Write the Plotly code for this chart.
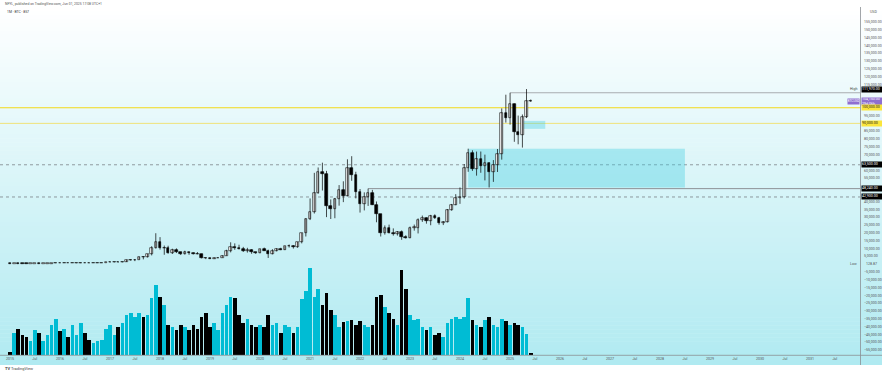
import plotly.graph_objects as go
import pandas as pd

# ---------------- data (monthly BTC, Jan 2015 - Jun 2025) ----------------
months = pd.date_range("2015-01-01", periods=126, freq="MS")

opens = [
    320, 217, 254, 244, 236, 230, 263, 284, 230, 236, 313, 377,
    430, 368, 437, 416, 448, 531, 673, 624, 574, 609, 700, 742,
    966, 970, 1190, 1080, 1350, 2300, 2480, 2870, 4730, 4340, 6450, 10000,
    13900, 10200, 10300, 6900, 9250, 7500, 6390, 7730, 7010, 6630, 6370, 4040,
    3740, 3460, 3820, 4100, 5320, 8560, 10820, 10080, 9600, 8290, 9150, 7540,
    7190, 9350, 8530, 6410, 8630, 9450, 9140, 11350, 11650, 10780, 13800, 19700,
    28990, 33110, 45140, 58790, 57720, 37300, 35040, 41460, 47130, 43820, 61300, 57000,
    46200, 38500, 43190, 45540, 37640, 31800, 19940, 23300, 20050, 19430, 20500, 17170,
    16540, 23130, 23150, 28480, 29250, 27220, 30470, 29230, 25940, 26960, 34640, 37720,
    42280, 42580, 61130, 71280, 60640, 67490, 62680, 64630, 58970, 63330, 70220, 96400,
    93400, 102400, 84350, 82550, 94200, 104600,
]
highs = [
    320, 265, 300, 261, 247, 268, 318, 285, 244, 334, 502, 469,
    462, 448, 439, 469, 550, 780, 704, 626, 628, 720, 756, 980,
    1150, 1210, 1300, 1360, 2790, 3000, 2950, 4750, 4980, 6470, 11400, 19700,
    17200, 11800, 11700, 9800, 9990, 7780, 8500, 7760, 7410, 7680, 6580, 4230,
    4090, 4200, 4150, 5600, 9100, 13880, 13200, 12330, 10950, 10370, 9510, 7750,
    9580, 10500, 9190, 9470, 10070, 10380, 11440, 12470, 12070, 14100, 19900, 29300,
    41950, 58350, 61780, 64850, 59590, 41330, 42300, 50500, 52920, 67000, 69000, 59040,
    47990, 45850, 48240, 47450, 40020, 31980, 24670, 25200, 22800, 21100, 21480, 18390,
    23960, 25250, 29190, 31000, 29820, 31430, 31800, 30200, 27480, 35200, 38440, 44700,
    48970, 64000, 73800, 72770, 71950, 71980, 70000, 65100, 66500, 73600, 99600, 108350,
    109590, 102750, 95000, 95700, 111970, 105300,
]
lows = [
    128.87, 212, 236, 214, 228, 219, 253, 198, 224, 235, 300, 345,
    350, 367, 395, 412, 439, 517, 606, 472, 570, 605, 680, 737,
    752, 940, 890, 1060, 1340, 2100, 1830, 2700, 2970, 4150, 5500, 9900,
    9200, 5900, 6600, 6400, 7000, 5750, 6070, 5880, 6100, 6200, 3550, 3120,
    3350, 3400, 3730, 4050, 5320, 7440, 9080, 9330, 7710, 7300, 6520, 6410,
    6850, 8450, 3850, 6150, 8110, 8830, 8980, 10520, 9880, 10370, 13200, 17600,
    28130, 32300, 44950, 47040, 30000, 28800, 29300, 37330, 39600, 43280, 53250, 42000,
    32900, 34300, 37170, 37700, 26700, 17600, 18780, 19600, 18150, 18190, 15480, 16260,
    16500, 21350, 19550, 26950, 25810, 24800, 28860, 25160, 24900, 26540, 34100, 37620,
    38500, 41880, 59000, 59600, 56550, 58400, 53500, 49000, 52550, 58900, 66800, 90500,
    89200, 78200, 76600, 74500, 93400, 103700,
]
closes = [
    217, 254, 244, 236, 230, 263, 284, 230, 236, 313, 377, 430,
    368, 437, 416, 448, 531, 673, 624, 574, 609, 700, 742, 966,
    970, 1190, 1080, 1350, 2300, 2480, 2870, 4730, 4340, 6450, 10000, 13900,
    10200, 10300, 6900, 9250, 7500, 6390, 7730, 7010, 6630, 6370, 4040, 3740,
    3460, 3820, 4100, 5320, 8560, 10820, 10080, 9600, 8290, 9150, 7540, 7190,
    9350, 8530, 6410, 8630, 9450, 9140, 11350, 11650, 10780, 13800, 19700, 28990,
    33110, 45140, 58790, 57720, 37300, 35040, 41460, 47130, 43820, 61300, 57000, 46200,
    38500, 43190, 45540, 37640, 31800, 19940, 23300, 20050, 19430, 20500, 17170, 16540,
    23130, 23150, 28480, 29250, 27220, 30470, 29230, 25940, 26960, 34640, 37720, 42280,
    42580, 61130, 71280, 60640, 67490, 62680, 64630, 58970, 63330, 70220, 96400, 93400,
    102400, 84350, 82550, 94200, 104600, 104150,
]
volumes = [  # thousands of BTC (relative)
    3, 22, 26, 20, 18, 14, 25, 22, 14, 20, 30, 36,
    24, 26, 18, 30, 20, 32, 22, 15, 12, 14, 15, 26,
    30, 20, 28, 32, 40, 42, 38, 42, 38, 40, 57, 70,
    58, 50, 30, 28, 25, 30, 28, 25, 30, 26, 38, 42,
    28, 32, 25, 42, 50, 58, 57, 40, 32, 36, 30, 28,
    30, 28, 40, 30, 32, 22, 30, 28, 22, 28, 56, 64,
    87, 58, 66, 50, 62, 45, 40, 28, 33, 34, 35, 30,
    34, 30, 28, 30, 58, 60, 48, 42, 36, 30, 85, 66,
    40, 35, 36, 28, 25, 28, 20, 22, 18, 32, 36, 38,
    36, 38, 57, 35, 30, 28, 35, 38, 30, 28, 36, 34,
    30, 32, 30, 28, 21, 2,
]

# levels / drawings
high_line = 109590
high_line_start = "2025-01-01"
support_line = 48240
support_line_start = "2022-03-01"
yellow_levels = [100000, 90000]
dotted_levels = [63500, 42900]
zone_big = dict(x0="2024-03-01", x1="2028-07-01", y0=49000, y1=73800)
zone_small = dict(x0="2025-04-01", x1="2025-09-15", y0=86500, y1=91600)
last_price = 104150
range_high = max(highs)
range_low = min(lows)

x_years = list(range(2015, 2032))
price_ticks = [v for v in range(-55000, 160000, 5000)
               if v not in (0, 45000, 50000, 65000, 90000, 100000, 105000, 110000)]

# ---------------- geometry helpers ----------------
W, H = 882, 372
ML, MR, MT, MB = 0, 22, 8, 17
PW, PH = W - ML - MR, H - MT - MB


def pxx(px):
    return (px - ML) / PW


def pxy(py):
    return (H - MB - py) / PH


MONTH_MS = 30.44 * 24 * 3600 * 1000

fig = go.Figure()

# volume
vol_colors = ["#00bcd4" if c >= o else "#000000" for o, c in zip(opens, closes)]
fig.add_trace(go.Bar(x=months, y=volumes, yaxis="y2", width=0.86 * MONTH_MS,
                     marker=dict(color=vol_colors, line=dict(width=0)),
                     hoverinfo="skip", showlegend=False))

# wicks
wx, wy = [], []
for d, lo, hi in zip(months, lows, highs):
    wx += [d, d, None]
    wy += [lo, hi, None]
fig.add_trace(go.Scatter(x=wx, y=wy, mode="lines", line=dict(color="#000000", width=0.7),
                         hoverinfo="skip", showlegend=False))

# bodies
MIN_BODY = 250
up_x, up_b, up_h, dn_x, dn_b, dn_h = [], [], [], [], [], []
for d, o, c in zip(months, opens, closes):
    b = min(o, c)
    h = max(abs(c - o), MIN_BODY)
    if c >= o:
        up_x.append(d); up_b.append(b); up_h.append(h)
    else:
        dn_x.append(d); dn_b.append(b); dn_h.append(h)
fig.add_trace(go.Bar(x=up_x, y=up_h, base=up_b, width=0.62 * MONTH_MS,
                     marker=dict(color="#ffffff", line=dict(color="#000000", width=0.6)),
                     hoverinfo="skip", showlegend=False))
fig.add_trace(go.Bar(x=dn_x, y=dn_h, base=dn_b, width=0.62 * MONTH_MS,
                     marker=dict(color="#000000", line=dict(color="#000000", width=0.6)),
                     hoverinfo="skip", showlegend=False))

shapes = []
# gradient background
top_px, bot_px = 7, 365
steps = 90
c0 = (255, 255, 255)
c1 = (176, 234, 241)
for i in range(steps):
    y_a = top_px + (bot_px - top_px) * i / steps
    y_b = top_px + (bot_px - top_px) * (i + 1) / steps + 0.6
    t = (i + 0.5) / steps
    col = "rgb(%d,%d,%d)" % tuple(round(a + (b - a) * t) for a, b in zip(c0, c1))
    shapes.append(dict(type="rect", xref="paper", yref="paper", layer="below",
                       x0=pxx(0), x1=pxx(W), y0=pxy(min(y_b, bot_px)), y1=pxy(y_a),
                       fillcolor=col, line=dict(width=0)))

# zones
for z in (zone_big, zone_small):
    shapes.append(dict(type="rect", xref="x", yref="y", layer="below",
                       x0=z["x0"], x1=z["x1"], y0=z["y0"], y1=z["y1"],
                       fillcolor="rgba(60,205,225,0.36)", line=dict(width=0)))

# yellow levels
for lv, col in zip(yellow_levels, ["#f2d91a", "#f0e27a"]):
    shapes.append(dict(type="line", xref="paper", yref="y", layer="below",
                       x0=0, x1=1, y0=lv, y1=lv, line=dict(color=col, width=1)))
# dotted levels
for lv in dotted_levels:
    shapes.append(dict(type="line", xref="paper", yref="y", layer="below",
                       x0=0, x1=1, y0=lv, y1=lv, line=dict(color="#6f7378", width=0.7, dash="dot")))
# solid gray lines
shapes.append(dict(type="line", xref="x", yref="y", layer="below",
                   x0=support_line_start, x1="2032-01-01", y0=support_line, y1=support_line,
                   line=dict(color="#8d9196", width=1)))
shapes.append(dict(type="line", xref="x", yref="y", layer="below",
                   x0=high_line_start, x1="2032-01-01", y0=high_line, y1=high_line,
                   line=dict(color="#a9adb1", width=1.2)))
# axis borders
shapes.append(dict(type="line", xref="paper", yref="paper", x0=pxx(860.5), x1=pxx(860.5),
                   y0=pxy(365), y1=pxy(7), line=dict(color="#8a8f94", width=0.8)))
shapes.append(dict(type="line", xref="paper", yref="paper", x0=pxx(0), x1=pxx(W),
                   y0=pxy(355.3), y1=pxy(355.3), line=dict(color="#8a8f94", width=0.8)))

annotations = []
FONT = "Roboto, Liberation Sans, sans-serif"
FS = 3.6


def axis_label(price, text, bg, fg, h=4.8):
    annotations.append(dict(xref="paper", yref="y", x=pxx(861), y=price, xanchor="left",
                            yanchor="middle", text=text, showarrow=False, width=20, height=h,
                            align="left", bgcolor=bg, borderpad=0,
                            font=dict(size=FS, color=fg, family=FONT)))


axis_label(range_high, f"{range_high:,.2f}", "#000000", "#ffffff")
annotations.append(dict(xref="paper", yref="y", x=pxx(859), y=range_high, xanchor="right",
                        yanchor="middle", text="High", showarrow=False,
                        font=dict(size=FS, color="#444", family=FONT)))
axis_label(last_price, f"{last_price:,.2f}<br>29d 06h", "#8e6fd0", "#ffffff", h=7)
annotations.append(dict(xref="paper", yref="y", x=pxx(860), y=last_price, xanchor="right",
                        yanchor="middle", text="BTCUSD", showarrow=False, width=11, height=4.6,
                        bgcolor="#8e6fd0", borderpad=0,
                        font=dict(size=3.2, color="#ffffff", family=FONT)))
for lv in yellow_levels:
    axis_label(lv, f"{lv:,.2f}", "#fbe53b", "#222222")
for lv in dotted_levels + [support_line]:
    axis_label(lv, f"{lv:,.2f}", "#000000", "#ffffff")
annotations.append(dict(xref="paper", yref="y", x=pxx(864), y=range_low, xanchor="left",
                        yanchor="middle", text=f"{range_low:,.2f}", showarrow=False,
                        font=dict(size=FS, color="#555", family=FONT)))
annotations.append(dict(xref="paper", yref="y", x=pxx(859), y=range_low, xanchor="right",
                        yanchor="middle", text="Low", showarrow=False,
                        font=dict(size=FS, color="#555", family=FONT)))
annotations.append(dict(xref="paper", yref="paper", x=pxx(868), y=pxy(12), xanchor="left",
                        yanchor="middle", text="USD", showarrow=False,
                        font=dict(size=FS, color="#555", family=FONT)))
# header
annotations.append(dict(xref="paper", yref="paper", x=pxx(3), y=pxy(4), xanchor="left",
                        yanchor="middle",
                        text="NFYL, published on TradingView.com, Jun 01, 2025 17:08 UTC+1",
                        showarrow=False, font=dict(size=3.4, color="#555", family=FONT)))
annotations.append(dict(xref="paper", yref="paper", x=pxx(5), y=pxy(12), xanchor="left",
                        yanchor="middle", text="1M · BTC · 857",
                        showarrow=False, font=dict(size=3.4, color="#333", family=FONT)))
annotations.append(dict(xref="paper", yref="paper", x=pxx(3), y=pxy(368.5), xanchor="left",
                        yanchor="middle", text="<b>TV</b> TradingView",
                        showarrow=False, font=dict(size=4, color="#444", family=FONT)))

tickvals_x, ticktext_x = [], []
for yr in x_years:
    tickvals_x += [f"{yr}-01-01", f"{yr}-07-01"]
    ticktext_x += [str(yr), "Jul"]

fig.update_layout(
    width=W, height=H,
    margin=dict(l=ML, r=MR, t=MT, b=MB, pad=0),
    paper_bgcolor="#ffffff", plot_bgcolor="rgba(0,0,0,0)",
    barmode="overlay", bargap=0,
    showlegend=False,
    shapes=shapes, annotations=annotations,
    xaxis=dict(type="date", range=["2014-10-20", "2032-01-01"], showgrid=False, zeroline=False,
               tickmode="array", tickvals=tickvals_x, ticktext=ticktext_x, ticks="",
               tickfont=dict(size=FS, color="#555", family=FONT), ticklabelstandoff=0,
               showline=False, fixedrange=True, automargin=False),
    yaxis=dict(side="right", range=[-58240, 163840], showgrid=False, zeroline=False,
               tickmode="array", tickvals=price_ticks,
               ticktext=[f"{v:,.2f}".replace("-", "−") for v in price_ticks], ticks="",
               tickfont=dict(size=FS, color="#555", family=FONT), ticklabelstandoff=3,
               showline=False, automargin=False),
    yaxis2=dict(overlaying="y", range=[0, 347], visible=False, automargin=False),
    font=dict(family=FONT),
)

fig.write_html("out.html", config={"displayModeBar": False},
               post_script="document.body.style.margin='0px';document.body.style.overflow='hidden';")
